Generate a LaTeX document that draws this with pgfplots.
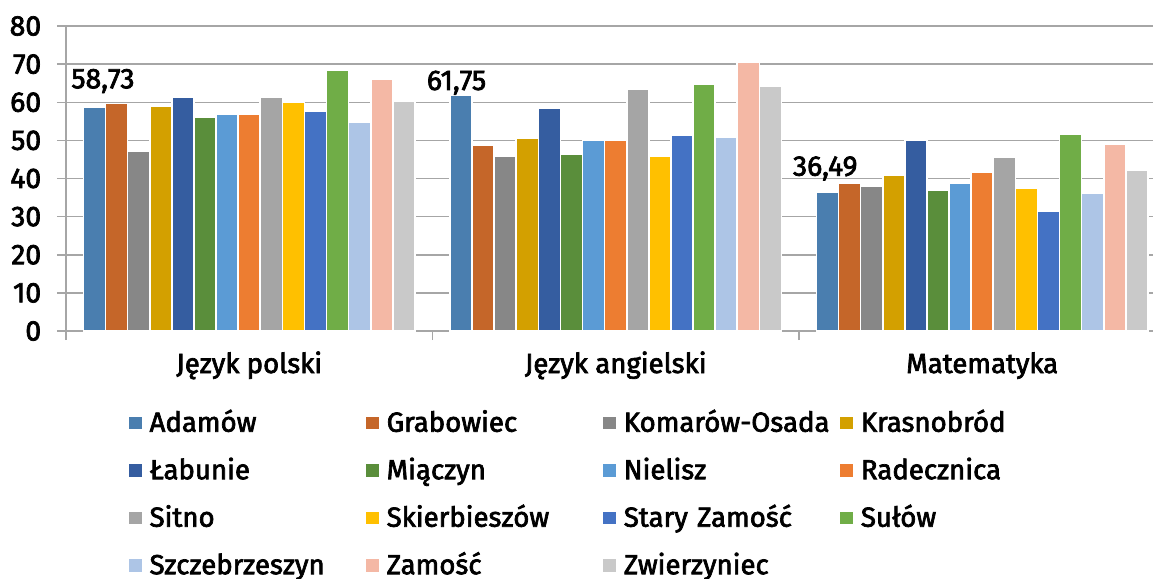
\documentclass[border=0pt]{standalone}
\usepackage{fontspec}
\setmainfont{Fira Sans}[BoldFont={Fira Sans}, BoldFeatures={FakeBold=2.5}]
\usepackage{pgfplots}
\pgfplotsset{compat=1.18}
\definecolor{c1}{RGB}{74,126,175}
\definecolor{c2}{RGB}{197,102,41}
\definecolor{c3}{RGB}{135,135,135}
\definecolor{c4}{RGB}{211,160,0}
\definecolor{c5}{RGB}{53,93,160}
\definecolor{c6}{RGB}{90,142,59}
\definecolor{c7}{RGB}{91,155,213}
\definecolor{c8}{RGB}{237,125,49}
\definecolor{c9}{RGB}{165,165,165}
\definecolor{c10}{RGB}{255,192,0}
\definecolor{c11}{RGB}{68,114,196}
\definecolor{c12}{RGB}{112,173,71}
\definecolor{c13}{RGB}{173,197,230}
\definecolor{c14}{RGB}{244,184,165}
\definecolor{c15}{RGB}{201,201,201}
\definecolor{gridc}{RGB}{166,166,166}
\newcommand\cf{\fontsize{13.8pt}{16.5pt}\selectfont\bfseries}
\newcommand\nf{\fontsize{14.2pt}{17pt}\selectfont\bfseries}
\begin{document}
\begin{tikzpicture}
\path[use as bounding box] (-33pt,-124pt) rectangle (543.5pt,165.5pt);
\begin{axis}[
  /pgf/number format/assume math mode=true,
  at={(0,0)}, anchor=south west,
  scale only axis, width=543.5pt, height=152.5pt,
  xmin=-0.5, xmax=2.466, ymin=0, ymax=80,
  ybar=0pt, bar width=11.05pt,
  axis x line*=bottom, axis y line*=left,
  axis line style={gridc, line width=0.75pt, -},
  ymajorgrids, grid style={gridc, line width=0.75pt},
  ytick={0,10,...,80},
  yticklabel={\pgfmathprintnumber[assume math mode=true]{\tick}},
  xtick={-0.5,0.5,1.5}, xticklabels={,,},
  extra x ticks={0,1,2},
  extra x tick labels={Język polski, Język angielski, Matematyka},
  extra x tick style={major tick length=0pt},
  tick align=outside, major tick length=4.5pt,
  tick style={gridc, line width=0.75pt},
  tick label style={font=\cf, text=black},
  yticklabel style={anchor=east, inner sep=0pt, xshift=-7.7pt, font=\nf},
  xticklabel style={anchor=base, inner sep=0pt, yshift=-21pt},
  every axis plot/.append style={draw=white, line width=0.8pt},
  legend image code/.code={\fill[#1,draw=none] (0pt,1.2pt) rectangle (6.3pt,7.5pt);},
  legend columns=4,
  legend style={
    at={(0,0)}, anchor=north west, xshift=31.5pt, yshift=-40.85pt,
    draw=none, fill=none, inner sep=0pt, outer sep=0pt,
    row sep=11.75pt,
    nodes={inner sep=0pt, outer sep=0pt, anchor=base west, font=\cf, text height=9.5pt, text depth=2.5pt, text width=105pt, align=left},
    /tikz/every odd column/.append style={column sep=4pt},
    /tikz/every even column/.append style={column sep=3.25pt},
  },
]
\addplot[fill=c1,
  nodes near coords={\pgfmathprintnumber[fixed, fixed zerofill, precision=2, use comma, assume math mode=true]{\pgfplotspointmeta}},
  point meta=y,
  visualization depends on={\thisrow{dx} \as \dx},
  visualization depends on={\thisrow{dy} \as \dy},
  every node near coord/.append style={anchor=base, font=\nf, text=black, draw=none, fill=none, inner sep=0pt, xshift=\dx pt, yshift=\dy pt},
] table {
x y dx dy
0 58.73 4.2 9.4
1 61.75 -2.25 2.8
2 36.49 -1.15 8.1
};
\addlegendentry{Adamów}
\addplot[fill=c2] coordinates {(0,59.7) (1,48.7) (2,38.8)};
\addlegendentry{Grabowiec}
\addplot[fill=c3] coordinates {(0,47.2) (1,45.9) (2,37.9)};
\addlegendentry{Komarów-Osada}
\addplot[fill=c4] coordinates {(0,58.9) (1,50.7) (2,41.0)};
\addlegendentry{Krasnobród}
\addplot[fill=c5] coordinates {(0,61.2) (1,58.5) (2,50.0)};
\addlegendentry{Łabunie}
\addplot[fill=c6] coordinates {(0,56.0) (1,46.4) (2,37.0)};
\addlegendentry{Miączyn}
\addplot[fill=c7] coordinates {(0,57.0) (1,50.0) (2,38.7)};
\addlegendentry{Nielisz}
\addplot[fill=c8] coordinates {(0,57.0) (1,50.0) (2,41.6)};
\addlegendentry{Radecznica}
\addplot[fill=c9] coordinates {(0,61.3) (1,63.5) (2,45.7)};
\addlegendentry{Sitno}
\addplot[fill=c10] coordinates {(0,60.1) (1,45.9) (2,37.4)};
\addlegendentry{Skierbieszów}
\addplot[fill=c11] coordinates {(0,57.6) (1,51.4) (2,31.4)};
\addlegendentry{Stary Zamość}
\addplot[fill=c12] coordinates {(0,68.5) (1,64.8) (2,51.6)};
\addlegendentry{Sułów}
\addplot[fill=c13] coordinates {(0,54.9) (1,50.9) (2,36.1)};
\addlegendentry{Szczebrzeszyn}
\addplot[fill=c14] coordinates {(0,66.0) (1,70.4) (2,49.1)};
\addlegendentry{Zamość}
\addplot[fill=c15] coordinates {(0,60.3) (1,64.3) (2,42.3)};
\addlegendentry{Zwierzyniec}
\end{axis}
\end{tikzpicture}
\end{document}
